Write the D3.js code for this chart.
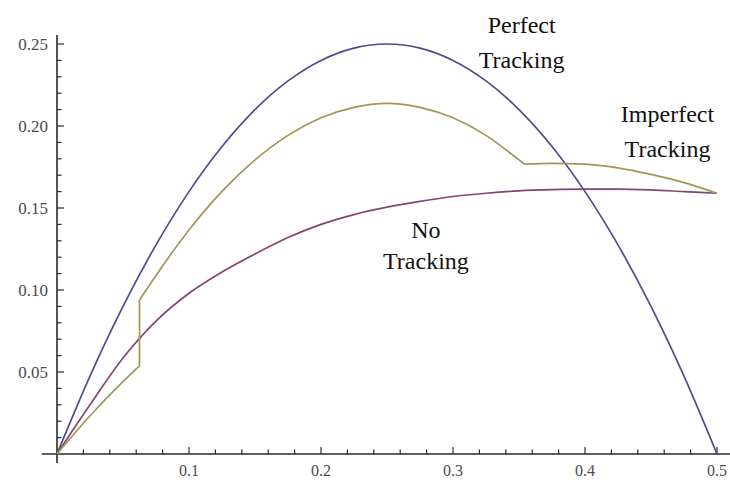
<!DOCTYPE html>
<html>
<head>
<meta charset="utf-8">
<script src="https://cdn.jsdelivr.net/npm/d3@7"></script>
<style>
  html, body { margin: 0; padding: 0; background: #fff; }
  svg { display: block; }
  text { font-family: "Liberation Serif", "Times New Roman", Times, "Nimbus Roman", "Nimbus Roman No9 L", "Noto Serif", "DejaVu Serif", Tinos, FreeSerif, serif; }
</style>
</head>
<body>
<svg id="chart" width="730" height="480"></svg>
<script>
// ---- data ----
const xGrid = [0, 0.025, 0.05, 0.075, 0.1, 0.125, 0.15, 0.175, 0.2, 0.225, 0.25,
               0.275, 0.3, 0.325, 0.35, 0.375, 0.4, 0.425, 0.45, 0.475, 0.5];
const perfectY = [0, 0.0475, 0.09, 0.1275, 0.16, 0.1875, 0.21, 0.2275, 0.24, 0.2475, 0.25,
                  0.2475, 0.24, 0.2275, 0.21, 0.1875, 0.16, 0.1275, 0.09, 0.0475, 0];
const noTrackY = [0, 0.030, 0.0585, 0.081, 0.098, 0.111, 0.122, 0.132, 0.140, 0.146, 0.1505,
                  0.154, 0.157, 0.159, 0.1605, 0.1612, 0.1615, 0.1615, 0.161, 0.160, 0.159];
// imperfect tracking: three pieces (jump at 1/16, kink near 0.354)
const impLowX  = [0, 0.025, 0.05, 0.0625];
const impLowY  = [0, 0.0233, 0.0441, 0.0537];
const impMidX  = [0.0625, 0.075, 0.1, 0.125, 0.15, 0.175, 0.2, 0.225, 0.25, 0.275, 0.3, 0.325, 0.35, 0.354];
const impMidY  = [0.0939, 0.1089, 0.1366, 0.1601, 0.1793, 0.1943, 0.2050, 0.2114, 0.2138, 0.2114, 0.2050, 0.1943, 0.1793, 0.1768];
const impTailX = [0.354, 0.375, 0.4, 0.425, 0.45, 0.475, 0.5];
const impTailY = [0.1768, 0.1772, 0.1768, 0.1745, 0.1705, 0.1655, 0.159];

const xMajor = [0.1, 0.2, 0.3, 0.4, 0.5];
const xMinor = [0.02, 0.04, 0.06, 0.08, 0.12, 0.14, 0.16, 0.18, 0.22, 0.24, 0.26, 0.28,
                0.32, 0.34, 0.36, 0.38, 0.42, 0.44, 0.46, 0.48];
const yMajor = [0.05, 0.10, 0.15, 0.20, 0.25];
const yMinor = [0.01, 0.02, 0.03, 0.04, 0.06, 0.07, 0.08, 0.09, 0.11, 0.12, 0.13, 0.14,
                0.16, 0.17, 0.18, 0.19, 0.21, 0.22, 0.23, 0.24];
const xLabelFmt = d => d3.format(".1f")(d);
const yLabelFmt = d => d3.format(".2f")(d);

const annotations = [
  { lines: ["Perfect", "Tracking"], x: 0.352, y: 0.257, gap: 35 },
  { lines: ["Imperfect", "Tracking"], x: 0.4625, y: 0.2025, gap: 35 },
  { lines: ["No", "Tracking"], x: 0.2795, y: 0.132, gap: 31 }
];

const colors = { perfect: "#4c4c94", none: "#874470", imperfect: "#a09656" };

// ---- drawing ----
const svg = d3.select("#chart");
const x = d3.scaleLinear().domain([0, 0.5]).range([57, 717]);
const y = d3.scaleLinear().domain([0, 0.25]).range([454, 44]);

const axisColor = "#2a2a2a";

// axis lines
svg.append("line")
  .attr("x1", x(-0.0115)).attr("x2", 730)
  .attr("y1", y(0)).attr("y2", y(0))
  .attr("stroke", axisColor).attr("stroke-width", 1.6);
svg.append("line")
  .attr("x1", x(0)).attr("x2", x(0))
  .attr("y1", y(-0.0055)).attr("y2", y(0.2555))
  .attr("stroke", axisColor).attr("stroke-width", 1.6);

// x ticks (pointing up)
const gx = svg.append("g");
gx.selectAll("line.maj").data(xMajor).join("line")
  .attr("class", "maj")
  .attr("x1", d => x(d)).attr("x2", d => x(d))
  .attr("y1", y(0)).attr("y2", y(0) - 7)
  .attr("stroke", axisColor).attr("stroke-width", 1.2);
gx.selectAll("line.min").data(xMinor).join("line")
  .attr("class", "min")
  .attr("x1", d => x(d)).attr("x2", d => x(d))
  .attr("y1", y(0)).attr("y2", y(0) - 4.5)
  .attr("stroke", axisColor).attr("stroke-width", 1.2);
svg.append("g").selectAll("text").data(xMajor).join("text")
  .attr("x", d => x(d)).attr("y", 476)
  .attr("text-anchor", "middle")
  .attr("font-size", 16).attr("fill", "#4a4a4a")
  .text(xLabelFmt);

// y ticks (pointing right)
const gy = svg.append("g");
gy.selectAll("line.maj").data(yMajor).join("line")
  .attr("class", "maj")
  .attr("x1", x(0)).attr("x2", x(0) + 7)
  .attr("y1", d => y(d)).attr("y2", d => y(d))
  .attr("stroke", axisColor).attr("stroke-width", 1.2);
gy.selectAll("line.min").data(yMinor).join("line")
  .attr("class", "min")
  .attr("x1", x(0)).attr("x2", x(0) + 4.5)
  .attr("y1", d => y(d)).attr("y2", d => y(d))
  .attr("stroke", axisColor).attr("stroke-width", 1.2);
svg.append("g").selectAll("text").data(yMajor).join("text")
  .attr("x", 48).attr("y", d => y(d))
  .attr("dy", "0.35em")
  .attr("text-anchor", "end")
  .attr("font-size", 17).attr("fill", "#4a4a4a")
  .text(yLabelFmt);

// curves
const line = d3.line().x(d => x(d[0])).y(d => y(d[1])).curve(d3.curveMonotoneX);
const straight = d3.line().x(d => x(d[0])).y(d => y(d[1]));
const zip = (a, b) => a.map((v, i) => [v, b[i]]);

function drawCurve(pts, color, gen) {
  svg.append("path").datum(pts)
    .attr("d", gen || line)
    .attr("fill", "none").attr("stroke", color)
    .attr("stroke-width", 1.7).attr("stroke-linejoin", "round");
}
drawCurve(zip(xGrid, perfectY), colors.perfect);
drawCurve(zip(xGrid, noTrackY), colors.none);
drawCurve(zip(impLowX, impLowY), colors.imperfect);
drawCurve([[impLowX[impLowX.length - 1], impLowY[impLowY.length - 1]], [impMidX[0], impMidY[0]]],
          colors.imperfect, straight);
drawCurve(zip(impMidX, impMidY), colors.imperfect);
drawCurve(zip(impTailX, impTailY), colors.imperfect);

// annotations
annotations.forEach(a => {
  const t = svg.append("text")
    .attr("x", x(a.x)).attr("y", y(a.y))
    .attr("text-anchor", "middle")
    .attr("font-size", 24).attr("fill", "#111");
  a.lines.forEach((l, i) => {
    t.append("tspan").attr("x", x(a.x)).attr("dy", i === 0 ? 0 : a.gap).text(l);
  });
});
</script>
</body>
</html>
